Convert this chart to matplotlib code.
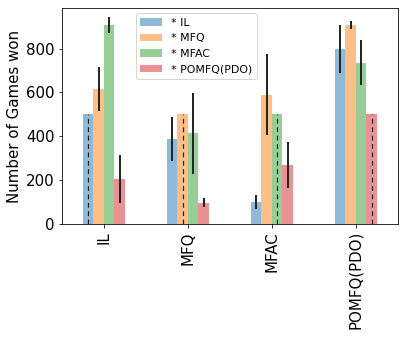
import matplotlib
matplotlib.use("Agg")
import matplotlib.pyplot as plt
import numpy as np

# Agentes evaluados (eje x) y oponentes (series)
categories = ["IL", "MFQ", "MFAC", "POMFQ(PDO)"]
series = ["* IL", "* MFQ", "* MFAC", "* POMFQ(PDO)"]

# Partidas ganadas (media) por oponente
won_il = [500, 388, 100, 798]
won_mfq = [615, 500, 590, 907]
won_mfac = [907, 413, 500, 735]
won_pomfq = [205, 97, 269, 500]

# Desviaciones
err_il = [0, 102, 33, 110]
err_mfq = [100, 0, 186, 17]
err_mfac = [35, 186, 0, 103]
err_pomfq = [108, 20, 105, 0]

values = [won_il, won_mfq, won_mfac, won_pomfq]
errors = [err_il, err_mfq, err_mfac, err_pomfq]
colors = ["#1f77b4", "#ff7f0e", "#2ca02c", "#d62728"]

fig = plt.figure(figsize=(403 / 72, 337 / 72), dpi=72)
ax = fig.add_axes([0.1538, 0.3353, 0.8337, 0.641])

x = np.arange(len(categories))
width = 0.125
for i, (vals, errs) in enumerate(zip(values, errors)):
    pos = x + (i - 1.5) * width
    ax.bar(pos, vals, width, color=colors[i], alpha=0.5, label=series[i])
    for p, v, e, cat in zip(pos, vals, errs, categories):
        if series[i] == "* " + cat:
            # juego contra sí mismo: línea discontinua
            ax.vlines(p, 0, v, colors="#222222", linestyles=(0, (4, 3)), lw=1.2)
        else:
            ax.errorbar(p, v, yerr=e, fmt="none", ecolor="#262626", elinewidth=2)

ax.set_xlim(-0.5, 3.5)
ax.set_ylim(0, 985)
ax.set_xticks(x)
ax.set_xticklabels(categories, rotation=90, fontsize=15)
ax.set_yticks([0, 200, 400, 600, 800])
ax.tick_params(axis="y", labelsize=15)
ax.set_ylabel("Number of Games won", fontsize=15)
ax.legend(loc="upper left", bbox_to_anchor=(0.203, 1.0), fontsize=11)

fig.savefig("out.png", dpi=72)
